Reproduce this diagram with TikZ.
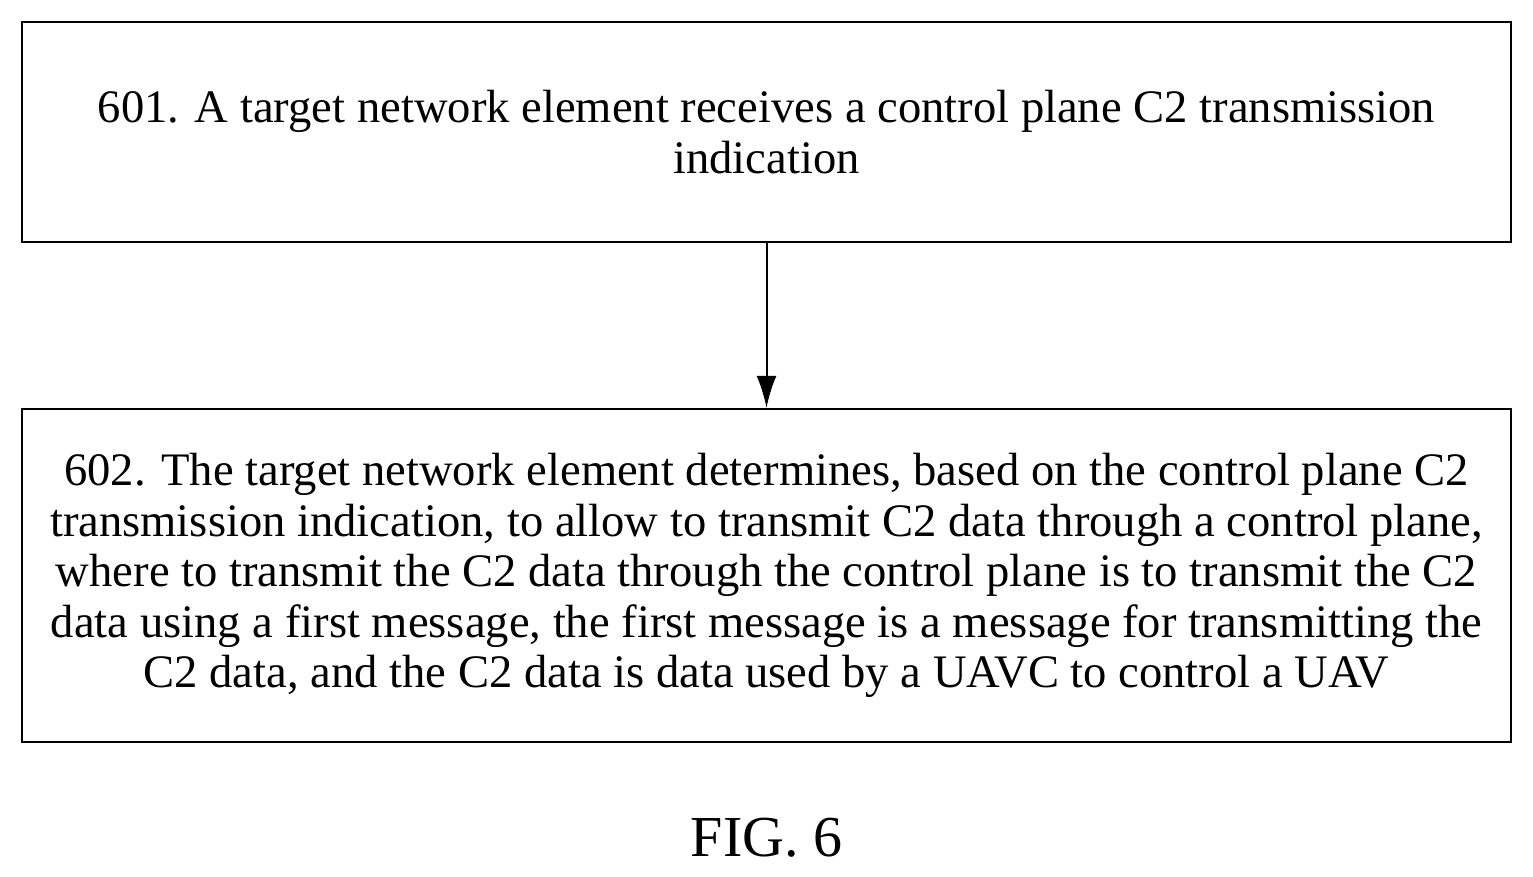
\documentclass[tikz,border=0pt]{standalone}
\usepackage{fontspec}
\setmainfont{Liberation Serif}
\usetikzlibrary{arrows.meta}
\begin{document}
\begin{tikzpicture}[x=0.5pt,y=-0.5pt,
  box/.style={draw,line width=1.2pt,minimum width=744.5pt,inner sep=0pt,align=center,font=\fontsize{23.3}{25.2}\selectfont},
  arr/.style={-{Latex[length=16pt,width=10pt]},line width=1pt}]
\useasboundingbox (0,0) rectangle (1533,877);
\node[box,minimum height=110pt] (a) at (766.5,132) {601. A target network element receives a control plane C2 transmission\\indication};
\node[box,minimum height=166.5pt] (b) at (766.5,575.5) {602. The target network element determines, based on the control plane C2\\transmission indication, to allow to transmit C2 data through a control plane,\\where to transmit the C2 data through the control plane is to transmit the C2\\data using a first message, the first message is a message for transmitting the\\C2 data, and the C2 data is data used by a UAVC to control a UAV};
\draw[arr] (a) -- (b);
\node[font=\fontsize{29}{34}\selectfont] (f) at (766.5,838) {FIG. 6};
\end{tikzpicture}
\end{document}
